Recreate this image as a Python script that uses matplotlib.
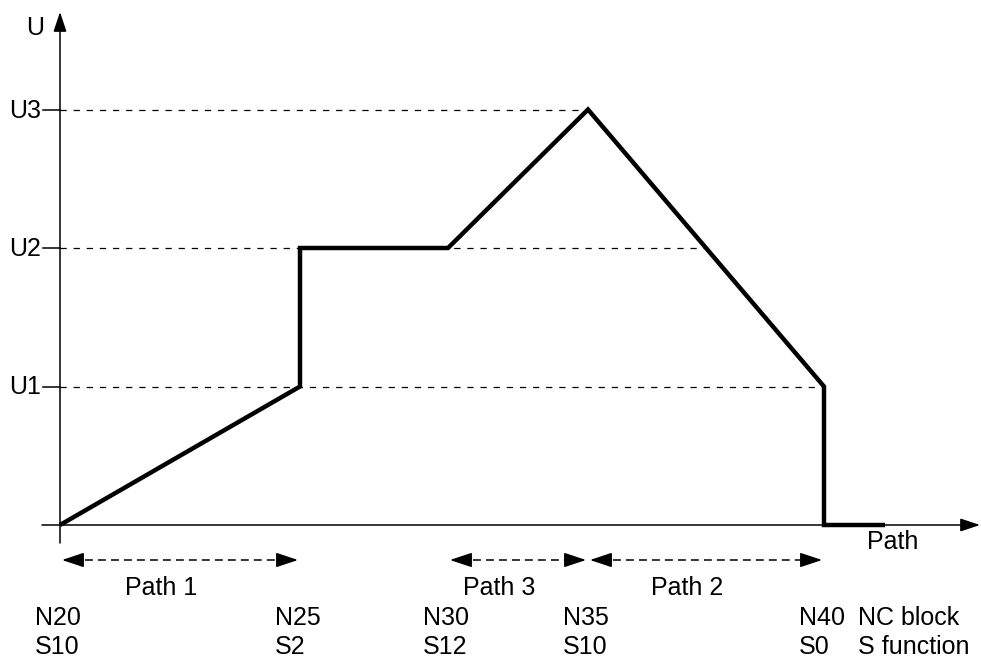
import numpy as np
import matplotlib
matplotlib.use('Agg')
import matplotlib.pyplot as plt

# spindle speed profile along the path (x in path units, y in U units)
path_x = [0.0, 24.0, 24.0, 38.8, 52.8, 76.4, 76.4, 82.5]
u_profile = [0, 1, 2, 2, 3, 1, 0, 0]

u_levels = [1, 2, 3]
u_labels = ['U1', 'U2', 'U3']

# NC blocks and S functions at the block boundaries
block_x = [0.0, 24.0, 38.8, 52.8, 76.4]
block_n = ['N20', 'N25', 'N30', 'N35', 'N40']
block_s = ['S10', 'S2', 'S12', 'S10', 'S0']

path_names = ['Path 1', 'Path 3', 'Path 2']
path_from = [0.0, 38.8, 52.8]
path_to = [24.0, 52.8, 76.4]

plt.rcParams['font.family'] = ['Liberation Sans', 'DejaVu Sans']
FS = 18

W, H = 981, 658
X0, Y0 = 60, 525          # origin in pixels
SX, SY = 10.0, 138.5      # pixels per data unit


def dx(p):
    '''horizontal pixel offset -> data offset'''
    return p / SX


def dy(p):
    '''vertical pixel offset (positive = downwards) -> data offset'''
    return -p / SY


fig = plt.figure(figsize=(W / 100, H / 100), dpi=100)
ax = fig.add_axes([0, 0, 1, 1])
ax.set_xlim(-X0 / SX, (W - X0) / SX)
ax.set_ylim(-(H - Y0) / SY, Y0 / SY)
ax.axis('off')

# axes with arrows
head = '-|>,head_length=0.6,head_width=0.2'
ax.annotate('', xy=(0, dy(-513)), xytext=(0, dy(18)),
            arrowprops=dict(arrowstyle=head, lw=1.1, color='black',
                            mutation_scale=20, shrinkA=0, shrinkB=0))
ax.annotate('', xy=(dx(920), 0), xytext=(dx(-18), 0),
            arrowprops=dict(arrowstyle=head, lw=1.1, color='black',
                            mutation_scale=20, shrinkA=0, shrinkB=0))
ax.text(dx(-16), dy(-490), 'U', fontsize=FS, ha='right', va='baseline')
ax.text(dx(807), dy(24), 'Path', fontsize=FS, ha='left', va='baseline')

# level lines: from the U axis to the last point where the profile reaches the level
xs = np.array(path_x)
us = np.array(u_profile, dtype=float)
for lvl, lab in zip(u_levels, u_labels):
    x_end = 0.0
    for i in range(len(xs) - 1):
        u1, u2 = us[i], us[i + 1]
        if min(u1, u2) <= lvl <= max(u1, u2):
            if u1 == u2:
                x_end = max(x_end, xs[i + 1])
            else:
                x_end = max(x_end, xs[i] + (lvl - u1) / (u2 - u1) * (xs[i + 1] - xs[i]))
    ax.plot([0, x_end], [lvl, lvl], color='black', lw=0.9,
            linestyle=(0, (5.0, 5.5)))
    ax.plot([dx(-17), 0], [lvl, lvl], color='black', lw=1.1)
    ax.text(dx(-19), lvl + dy(8), lab, fontsize=FS, ha='right', va='baseline')

# the profile
ax.plot(path_x, u_profile, color='black', lw=3.2, solid_joinstyle='miter',
        solid_capstyle='butt')

# path segments as dashed double arrows
y_arr = dy(35)
small = '-|>,head_length=0.75,head_width=0.25'
for name, a, b in zip(path_names, path_from, path_to):
    a2, b2 = a + dx(2), b - dx(2)
    ax.plot([a2 + 1.0, b2 - 1.0], [y_arr, y_arr], color='black', lw=1.1,
            linestyle=(0, (5.2, 3.3)))
    for tip, tail in ((a2, a2 + 1.4), (b2, b2 - 1.4)):
        ax.annotate('', xy=(tip, y_arr), xytext=(tail, y_arr),
                    arrowprops=dict(arrowstyle=small, lw=1.1, color='black',
                                    mutation_scale=18, shrinkA=0, shrinkB=0))
    ax.text((a + b) / 2 + dx(-19), dy(70), name, fontsize=FS,
            ha='center', va='baseline')

# block / S function rows
y_n = dy(100)
y_s = dy(129)
for bx, n, s in zip(block_x, block_n, block_s):
    ax.text(bx + dx(-25), y_n, n, fontsize=FS, ha='left', va='baseline')
    ax.text(bx + dx(-25), y_s, s, fontsize=FS, ha='left', va='baseline')
ax.text(block_x[-1] + dx(34), y_n, 'NC block', fontsize=FS, ha='left', va='baseline')
ax.text(block_x[-1] + dx(34), y_s, 'S function', fontsize=FS, ha='left', va='baseline')

fig.savefig('out.png', dpi=100)
